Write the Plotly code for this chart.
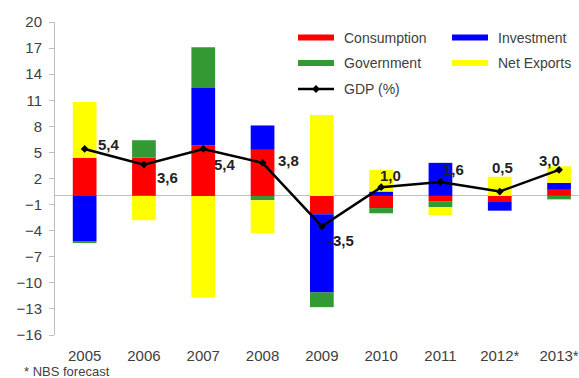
import plotly.graph_objects as go

# Contributions to GDP growth (percentage points)
years = ["2005", "2006", "2007", "2008", "2009", "2010", "2011", "2012*", "2013*"]
consumption = [4.4, 4.4, 5.8, 5.3, -2.1, -1.4, -0.6, -0.7, 0.7]
investment = [-5.2, 0.0, 6.6, 2.8, -9.0, 0.5, 3.8, -1.0, 0.8]
government = [-0.2, 2.0, 4.7, -0.5, -1.7, -0.6, -0.7, 0.0, -0.4]
net_exports = [6.4, -2.8, -11.7, -3.8, 9.3, 2.5, -0.9, 2.2, 1.9]
gdp = [5.4, 3.6, 5.4, 3.8, -3.5, 1.0, 1.6, 0.5, 3.0]

y_ticks = list(range(-16, 21, 3))

W, H = 579, 378
ML, MR, MT, MB = 55, 0, 22, 43
PW, PH = W - ML - MR, H - MT - MB

FONT = "Liberation Sans, Arial, sans-serif"
TXT = "#404040"

series = [
    ("Consumption", consumption, "#FF0000"),
    ("Investment", investment, "#0000FF"),
    ("Government", government, "#339933"),
    ("Net Exports", net_exports, "#FFFF00"),
]

fig = go.Figure()
for name, vals, col in series:
    fig.add_trace(go.Bar(x=years, y=vals, name=name, marker=dict(color=col, line=dict(width=0)),
                         showlegend=False))

fig.add_trace(go.Scatter(x=years, y=gdp, name="GDP (%)", mode="lines+markers",
                         line=dict(color="black", width=2.5),
                         marker=dict(symbol="diamond", size=6, color="black"),
                         showlegend=False))

# GDP value labels (offsets in pixels from each point); x given as category index
offsets = [(11, 4, "left"), (11, -13, "left"), (9, -16, "left"), (13, 2, "left"),
           (4, -14, "left"), (9, 12, "center"), (13, 12, "center"), (3, 24, "center"),
           (-10, 9, "center")]
for i, (v, (dx, dy, anc)) in enumerate(zip(gdp, offsets)):
    fig.add_annotation(x=i, y=v, xref="x", yref="y", text=f"{v:.1f}".replace(".", ","),
                       showarrow=False, xshift=dx, yshift=dy, xanchor=anc, yanchor="middle",
                       font=dict(family=FONT, size=15, color="#222222", weight="bold"))


def px(xp):
    return (xp - ML) / PW


def py(yp):
    return (H - MB - yp) / PH


# Legend drawn as wide swatches in two columns
legend_items = [
    ("Consumption", "#FF0000", 298, 37.5),
    ("Investment", "#0000FF", 452, 37.5),
    ("Government", "#339933", 298, 63),
    ("Net Exports", "#FFFF00", 452, 63),
]
for label, col, x0, yc in legend_items:
    fig.add_shape(type="rect", xref="paper", yref="paper", x0=px(x0), x1=px(x0 + 36),
                  y0=py(yc + 3), y1=py(yc - 3), fillcolor=col, line=dict(width=0))
    fig.add_annotation(xref="paper", yref="paper", x=px(x0 + 44), y=py(yc), text=label,
                       showarrow=False, xanchor="left", yanchor="middle",
                       font=dict(family=FONT, size=14, color=TXT))

fig.add_shape(type="line", xref="paper", yref="paper", x0=px(298), x1=px(334),
              y0=py(89), y1=py(89), line=dict(color="black", width=2.5))
fig.add_trace(go.Scatter(x=[px(316)], y=[py(89)], xaxis="x2", yaxis="y2", mode="markers",
                         marker=dict(symbol="diamond", size=6, color="black"),
                         showlegend=False, hoverinfo="skip"))
fig.add_annotation(xref="paper", yref="paper", x=px(342), y=py(89), text="GDP (%)",
                   showarrow=False, xanchor="left", yanchor="middle",
                   font=dict(family=FONT, size=14, color=TXT))

fig.add_annotation(xref="paper", yref="paper", x=px(22), y=py(371), text="* NBS forecast",
                   showarrow=False, xanchor="left", yanchor="middle",
                   font=dict(family=FONT, size=13, color=TXT))

fig.update_layout(
    width=W, height=H,
    margin=dict(l=ML, r=MR, t=MT, b=MB),
    barmode="relative", bargap=0.6,
    plot_bgcolor="white", paper_bgcolor="white",
    font=dict(family=FONT, color=TXT),
    xaxis=dict(type="category", range=[-0.5, -0.5 + PW / 59.3], showline=False, ticks="",
               showgrid=False, tickfont=dict(size=15, color=TXT), ticklabelstandoff=10),
    yaxis=dict(range=[-16, 20], tickvals=y_ticks, showline=True, linecolor="#BFBFBF",
               linewidth=1, ticks="outside", ticklen=5, tickcolor="#BFBFBF", showgrid=False,
               zeroline=True, zerolinecolor="#BFBFBF", zerolinewidth=1,
               tickfont=dict(size=15, color=TXT), ticklabelstandoff=4),
    xaxis2=dict(range=[0, 1], overlaying="x", visible=False, fixedrange=True),
    yaxis2=dict(range=[0, 1], overlaying="y", visible=False, fixedrange=True),
)

fig.write_html("out.html")
